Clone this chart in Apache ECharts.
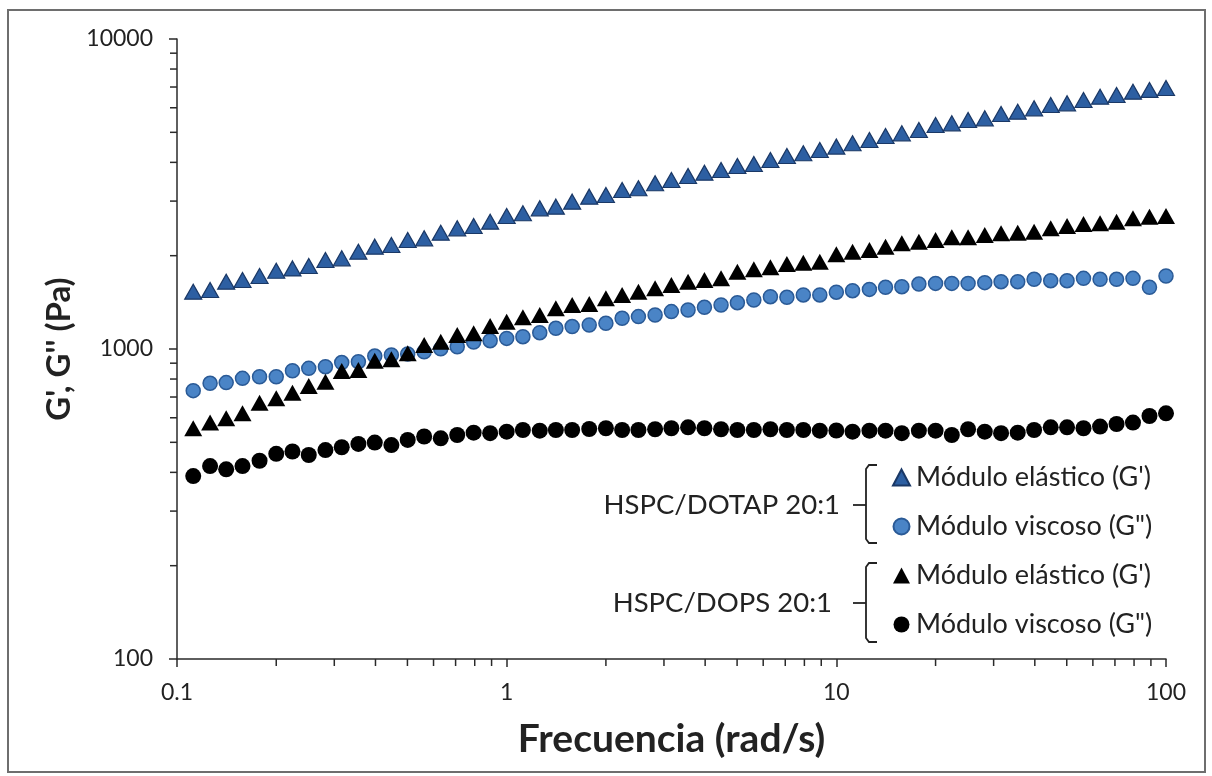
<!DOCTYPE html>
<html>
<head>
<meta charset="utf-8">
<script src="https://cdn.jsdelivr.net/npm/echarts@6/dist/echarts.min.js"></script>
<style>
html,body{margin:0;padding:0;background:#fff;}
#chart{width:1212px;height:776px;}
</style>
</head>
<body>
<div id="chart"></div>
<script>
// Frequency (rad/s)
const freq = [0.112,0.126,0.141,0.158,0.178,0.2,0.224,0.251,0.282,0.316,
  0.355,0.398,0.447,0.501,0.562,0.631,0.708,0.794,0.891,1,
  1.12,1.26,1.41,1.58,1.78,2,2.24,2.51,2.82,3.16,
  3.55,3.98,4.47,5.01,5.62,6.31,7.08,7.94,8.91,10,
  11.2,12.6,14.1,15.8,17.8,20,22.4,25.1,28.2,31.6,
  35.5,39.8,44.7,50.1,56.2,63.1,70.8,79.4,89.1,100];

// HSPC/DOTAP 20:1
const dotapGp = [1531,1550,1649,1670,1720,1789,1820,1852,1937,1961,
  2061,2139,2165,2247,2275,2373,2450,2493,2575,2686,
  2740,2843,2879,2988,3101,3139,3258,3299,3424,3510,
  3615,3706,3780,3894,3953,4072,4195,4279,4386,4496,
  4609,4723,4866,4963,5088,5280,5345,5479,5547,5729,
  5829,5975,6125,6201,6356,6515,6597,6762,6850,6950];
const dotapGpp = [734,775,779,804,814,814,851,866,877,904,
  910,949,957,964,980,1002,1017,1053,1064,1082,
  1096,1129,1166,1181,1195,1210,1256,1272,1287,1320,
  1336,1363,1387,1411,1439,1475,1468,1494,1494,1525,
  1542,1557,1581,1589,1620,1628,1628,1628,1637,1649,
  1649,1678,1661,1661,1690,1678,1678,1690,1581,1720];

// HSPC/DOPS 20:1
const dopsGp = [555,579,598,620,671,693,723,760,784,849,
  856,917,926,969,1030,1056,1110,1124,1186,1225,
  1265,1287,1353,1387,1397,1457,1494,1531,1569,1609,
  1649,1670,1690,1776,1807,1834,1880,1898,1913,2020,
  2061,2086,2139,2192,2220,2247,2292,2292,2332,2361,
  2373,2390,2450,2493,2531,2543,2575,2639,2672,2686];
const dopsGpp = [389,419,409,419,436,459,467,455,472,482,
  494,499,490,509,522,515,528,537,535,541,
  548,545,548,548,552,555,548,548,551,555,
  559,555,551,548,548,551,548,548,545,546,
  541,545,545,535,545,545,528,551,541,535,
  537,548,559,559,555,562,573,579,608,620];

// Axes
const xMin = 0.1, xMax = 100;
const yMin = 100, yMax = 10000;
const xMinorTicks = [0.2,0.3,0.4,0.5,0.6,0.7,0.8,0.9,2,3,4,5,6,7,8,9,20,30,40,50,60,70,80,90];
const yMinorTicks = [200,300,400,500,600,700,800,900,2000,3000,4000,5000,6000,7000,8000,9000];

// Legend texts
const groupLabels = ['HSPC/DOTAP 20:1', 'HSPC/DOPS 20:1'];
const legendText = {
  dotapGp: "Módulo elástico (G')",
  dotapGpp: 'Módulo viscoso (G")',
  dopsGp: "Módulo elástico (G')",
  dopsGpp: 'Módulo viscoso (G")'
};

const FONT = 'Lato, "Open Sans", sans-serif';
const pair = (arr) => freq.map((f, i) => [f, arr[i]]);

const chart = echarts.init(document.getElementById('chart'), null, {renderer: 'canvas'});

function tickSeries(data, axis) {
  return {
    type: 'custom',
    name: 'ticks_' + axis,
    silent: true,
    clip: false,
    z: 5,
    data: data,
    renderItem: function (params, api) {
      const p = api.coord([api.value(0), api.value(1)]);
      const shape = axis === 'x'
        ? {x1: p[0], y1: p[1], x2: p[0], y2: p[1] + 7}
        : {x1: p[0] - 7, y1: p[1], x2: p[0], y2: p[1]};
      return {type: 'line', shape: shape, style: {stroke: '#2a2a2a', lineWidth: 1.5}};
    }
  };
}

const option = {
  backgroundColor: '#ffffff',
  animation: false,
  grid: {left: 177, right: 46, top: 39, bottom: 117, outerBoundsMode: 'none'},
  xAxis: {
    type: 'log', logBase: 10, min: xMin, max: xMax,
    name: 'Frecuencia (rad/s)', nameLocation: 'middle', nameGap: 61,
    nameTextStyle: {fontFamily: FONT, fontSize: 39, fontWeight: 'bold', color: '#222'},
    axisLine: {lineStyle: {color: '#2a2a2a', width: 1.5}},
    axisTick: {show: true, inside: false, length: 8, lineStyle: {color: '#2a2a2a', width: 1.5}},
    minorTick: {show: false},
    splitLine: {show: false},
    axisLabel: {fontFamily: FONT, fontSize: 23, color: '#222', margin: 22,
      formatter: v => String(+Number(v).toPrecision(6))}
  },
  yAxis: {
    type: 'log', logBase: 10, min: yMin, max: yMax,
    name: "G', G'' (Pa)", nameLocation: 'middle', nameGap: 86,
    nameTextStyle: {fontFamily: FONT, fontSize: 33, fontWeight: 'bold', color: '#222'},
    axisLine: {show: true, lineStyle: {color: '#2a2a2a', width: 1.5}},
    axisTick: {show: true, inside: false, length: 8, lineStyle: {color: '#2a2a2a', width: 1.5}},
    splitLine: {show: false},
    axisLabel: {fontFamily: FONT, fontSize: 23, color: '#222', margin: 24,
      formatter: v => String(Math.round(v))}
  },
  legend: {
    orient: 'vertical',
    left: 892, top: 463,
    padding: 0,
    itemGap: 20,
    itemWidth: 17, itemHeight: 16,
    selectedMode: false,
    data: ['dotapGp', 'dotapGpp', 'dopsGp', 'dopsGpp'],
    formatter: n => legendText[n],
    textStyle: {fontFamily: FONT, fontSize: 27, color: '#222', lineHeight: 29, padding: [0, 0, 0, 1]}
  },
  series: [
    {
      name: 'dotapGp', type: 'scatter', symbol: 'triangle', symbolSize: [17, 15],
      data: pair(dotapGp), z: 2,
      itemStyle: {color: '#2d5fa2', borderColor: '#1a3866', borderWidth: 1.2, opacity: 1}
    },
    {
      name: 'dotapGpp', type: 'scatter', symbol: 'circle', symbolSize: 14,
      data: pair(dotapGpp), z: 2,
      itemStyle: {color: '#4a84c6', borderColor: '#2a5a96', borderWidth: 1.5, opacity: 1}
    },
    {
      name: 'dopsGp', type: 'scatter', symbol: 'triangle', symbolSize: [18, 16],
      data: pair(dopsGp), z: 3,
      itemStyle: {color: '#000000', borderColor: '#000000', borderWidth: 0, opacity: 1}
    },
    {
      name: 'dopsGpp', type: 'scatter', symbol: 'circle', symbolSize: 16,
      data: pair(dopsGpp), z: 3,
      itemStyle: {color: '#000000', opacity: 1}
    },
    tickSeries(xMinorTicks.map(v => [v, yMin]), 'x'),
    tickSeries(yMinorTicks.map(v => [xMin, v]), 'y')
  ],
  graphic: [
    {type: 'rect', silent: true, z: 0,
      shape: {x: 8, y: 10, width: 1197, height: 762},
      style: {fill: 'none', stroke: '#6e6e6e', lineWidth: 2}},
    {type: 'text', silent: true, x: 840, y: 505,
      style: {text: groupLabels[0], fontFamily: FONT, fontSize: 27.5, fill: '#222', align: 'right', verticalAlign: 'middle'}},
    {type: 'text', silent: true, x: 832, y: 603,
      style: {text: groupLabels[1], fontFamily: FONT, fontSize: 27.5, fill: '#222', align: 'right', verticalAlign: 'middle'}},
    {type: 'polyline', silent: true,
      shape: {points: [[877,465],[869,465],[866,469],[866,539],[869,543],[877,543]]},
      style: {stroke: '#222', lineWidth: 1.8, fill: null}},
    {type: 'line', silent: true, shape: {x1: 853, y1: 505, x2: 866, y2: 505},
      style: {stroke: '#222', lineWidth: 1.8}},
    {type: 'polyline', silent: true,
      shape: {points: [[877,563],[869,563],[866,567],[866,638],[869,642],[877,642]]},
      style: {stroke: '#222', lineWidth: 1.8, fill: null}},
    {type: 'line', silent: true, shape: {x1: 853, y1: 603, x2: 866, y2: 603},
      style: {stroke: '#222', lineWidth: 1.8}}
  ]
};
chart.setOption(option);
</script>
</body>
</html>
